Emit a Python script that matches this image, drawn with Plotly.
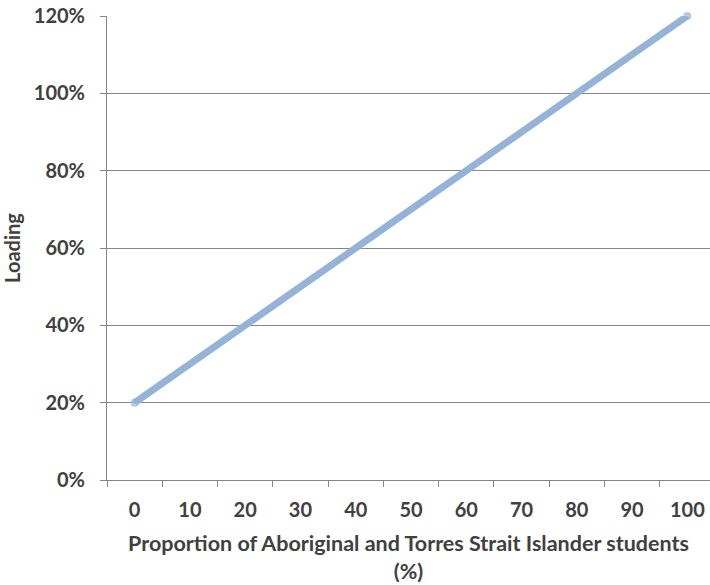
import plotly.graph_objects as go

categories = ["0", "10", "20", "30", "40", "50", "60", "70", "80", "90", "100"]
loading = [0.20, 0.30, 0.40, 0.50, 0.60, 0.70, 0.80, 0.90, 1.00, 1.10, 1.20]
y_ticks = [0, 0.2, 0.4, 0.6, 0.8, 1.0, 1.2]
y_tick_labels = ["0%", "20%", "40%", "60%", "80%", "100%", "120%"]

FONT = "Lato"
TXT = "#404040"
GRID = "#868686"
LINE_C = "#95B3D7"

n = len(categories)
msize = [8] + [0] * (n - 2) + [8]

fig = go.Figure()
fig.add_trace(go.Scatter(
    x=categories, y=loading, mode="lines+markers",
    line=dict(color=LINE_C, width=7),
    marker=dict(color=LINE_C, size=msize, line=dict(width=0)),
    hoverinfo="skip", showlegend=False, cliponaxis=False,
))

fig.update_layout(
    width=710, height=585,
    margin=dict(l=107, r=0, t=16, b=105),
    paper_bgcolor="white", plot_bgcolor="white",
    font=dict(family=FONT, color=TXT, size=20),
    xaxis=dict(
        type="category", range=[-0.5, 10.41], automargin=False,
        tickson="boundaries", ticks="outside", ticklen=6, tickcolor=GRID,
        showline=True, linecolor=GRID, linewidth=1,
        showgrid=False, zeroline=False,
        tickfont=dict(family=FONT, size=20, color=TXT, weight="bold"),
        ticklabelstandoff=12, ticklabeloverflow="allow",
        title=dict(text="<b>Proportion of Aboriginal and Torres Strait Islander students<br>(%)</b>",
                   font=dict(family=FONT, size=21.5, color=TXT), standoff=15),
    ),
    yaxis=dict(
        range=[0, 1.2], tickvals=y_ticks, ticktext=y_tick_labels, automargin=False,
        ticks="outside", ticklen=6, tickcolor=GRID,
        showline=True, linecolor=GRID, linewidth=1,
        showgrid=True, gridcolor=GRID, gridwidth=1, zeroline=False,
        tickfont=dict(family=FONT, size=20, color=TXT, weight="bold"),
        ticklabelstandoff=11, ticklabeloverflow="allow",
        title=dict(text="<b>Loading</b>", font=dict(family=FONT, size=20, color=TXT), standoff=14),
    ),
)

fig.write_html("out.html", config={"displayModeBar": False},
               post_script=["document.body.style.margin='0';"])
